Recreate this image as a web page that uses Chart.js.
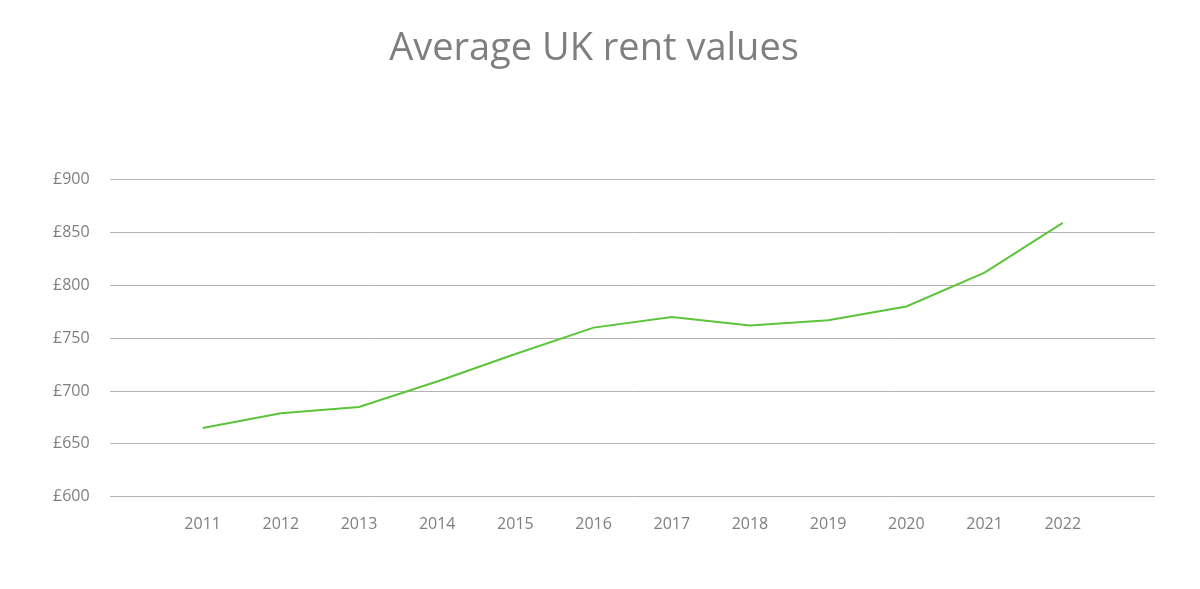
<!DOCTYPE html>
<html><head><meta charset="utf-8">
<script src="https://cdn.jsdelivr.net/npm/chart.js@4"></script>
<style>html,body{margin:0;background:#fff}#w{width:1200px;height:589px}</style>
</head><body><div id="w"><canvas id="c"></canvas></div>
<script>
const years = [2011,2012,2013,2014,2015,2016,2017,2018,2019,2020,2021,2022];
const rents = [665,679,685,709,735,760,770,762,767,780,812,859];
const yTicks = [600,650,700,750,800,850,900];
new Chart(document.getElementById('c'), {
  type: 'line',
  data: { datasets: [{ label: 'Average rent', data: years.map((y,i)=>({x:y,y:rents[i]})),
    borderColor: '#5cc43a', borderWidth: 2, pointRadius: 0, tension: 0, fill: false }] },
  options: {
    responsive: true, maintainAspectRatio: false, animation: false,
    layout: { padding: { left: 33, right: 45, top: 10, bottom: 45 } },
    plugins: { legend: { display: false }, tooltip: { enabled: false },
      title: { display: true, text: 'Average UK rent values', color: '#7f7f7f',
        font: { family: 'Open Sans', size: 38, weight: 'normal' }, padding: { top: 16, bottom: 108 } } },
    scales: {
      x: { type: 'linear', min: 2009.81, max: 2023.18, afterBuildTicks: a => { a.ticks = years.map(v=>({value:v})); },
        grid: { display: false }, border: { display: false },
        ticks: { color: '#7f7f7f', font: { family: 'Open Sans', size: 16 }, padding: 10, callback: v => String(v) } },
      y: { min: 600, max: 900, afterBuildTicks: a => { a.ticks = yTicks.map(v=>({value:v})); },
        grid: { color: '#b3b3b3', drawTicks: false }, border: { display: false },
        ticks: { color: '#7f7f7f', font: { family: 'Open Sans', size: 16 }, padding: 20, callback: v => '£' + v } }
    }
  }
});
</script></body></html>
